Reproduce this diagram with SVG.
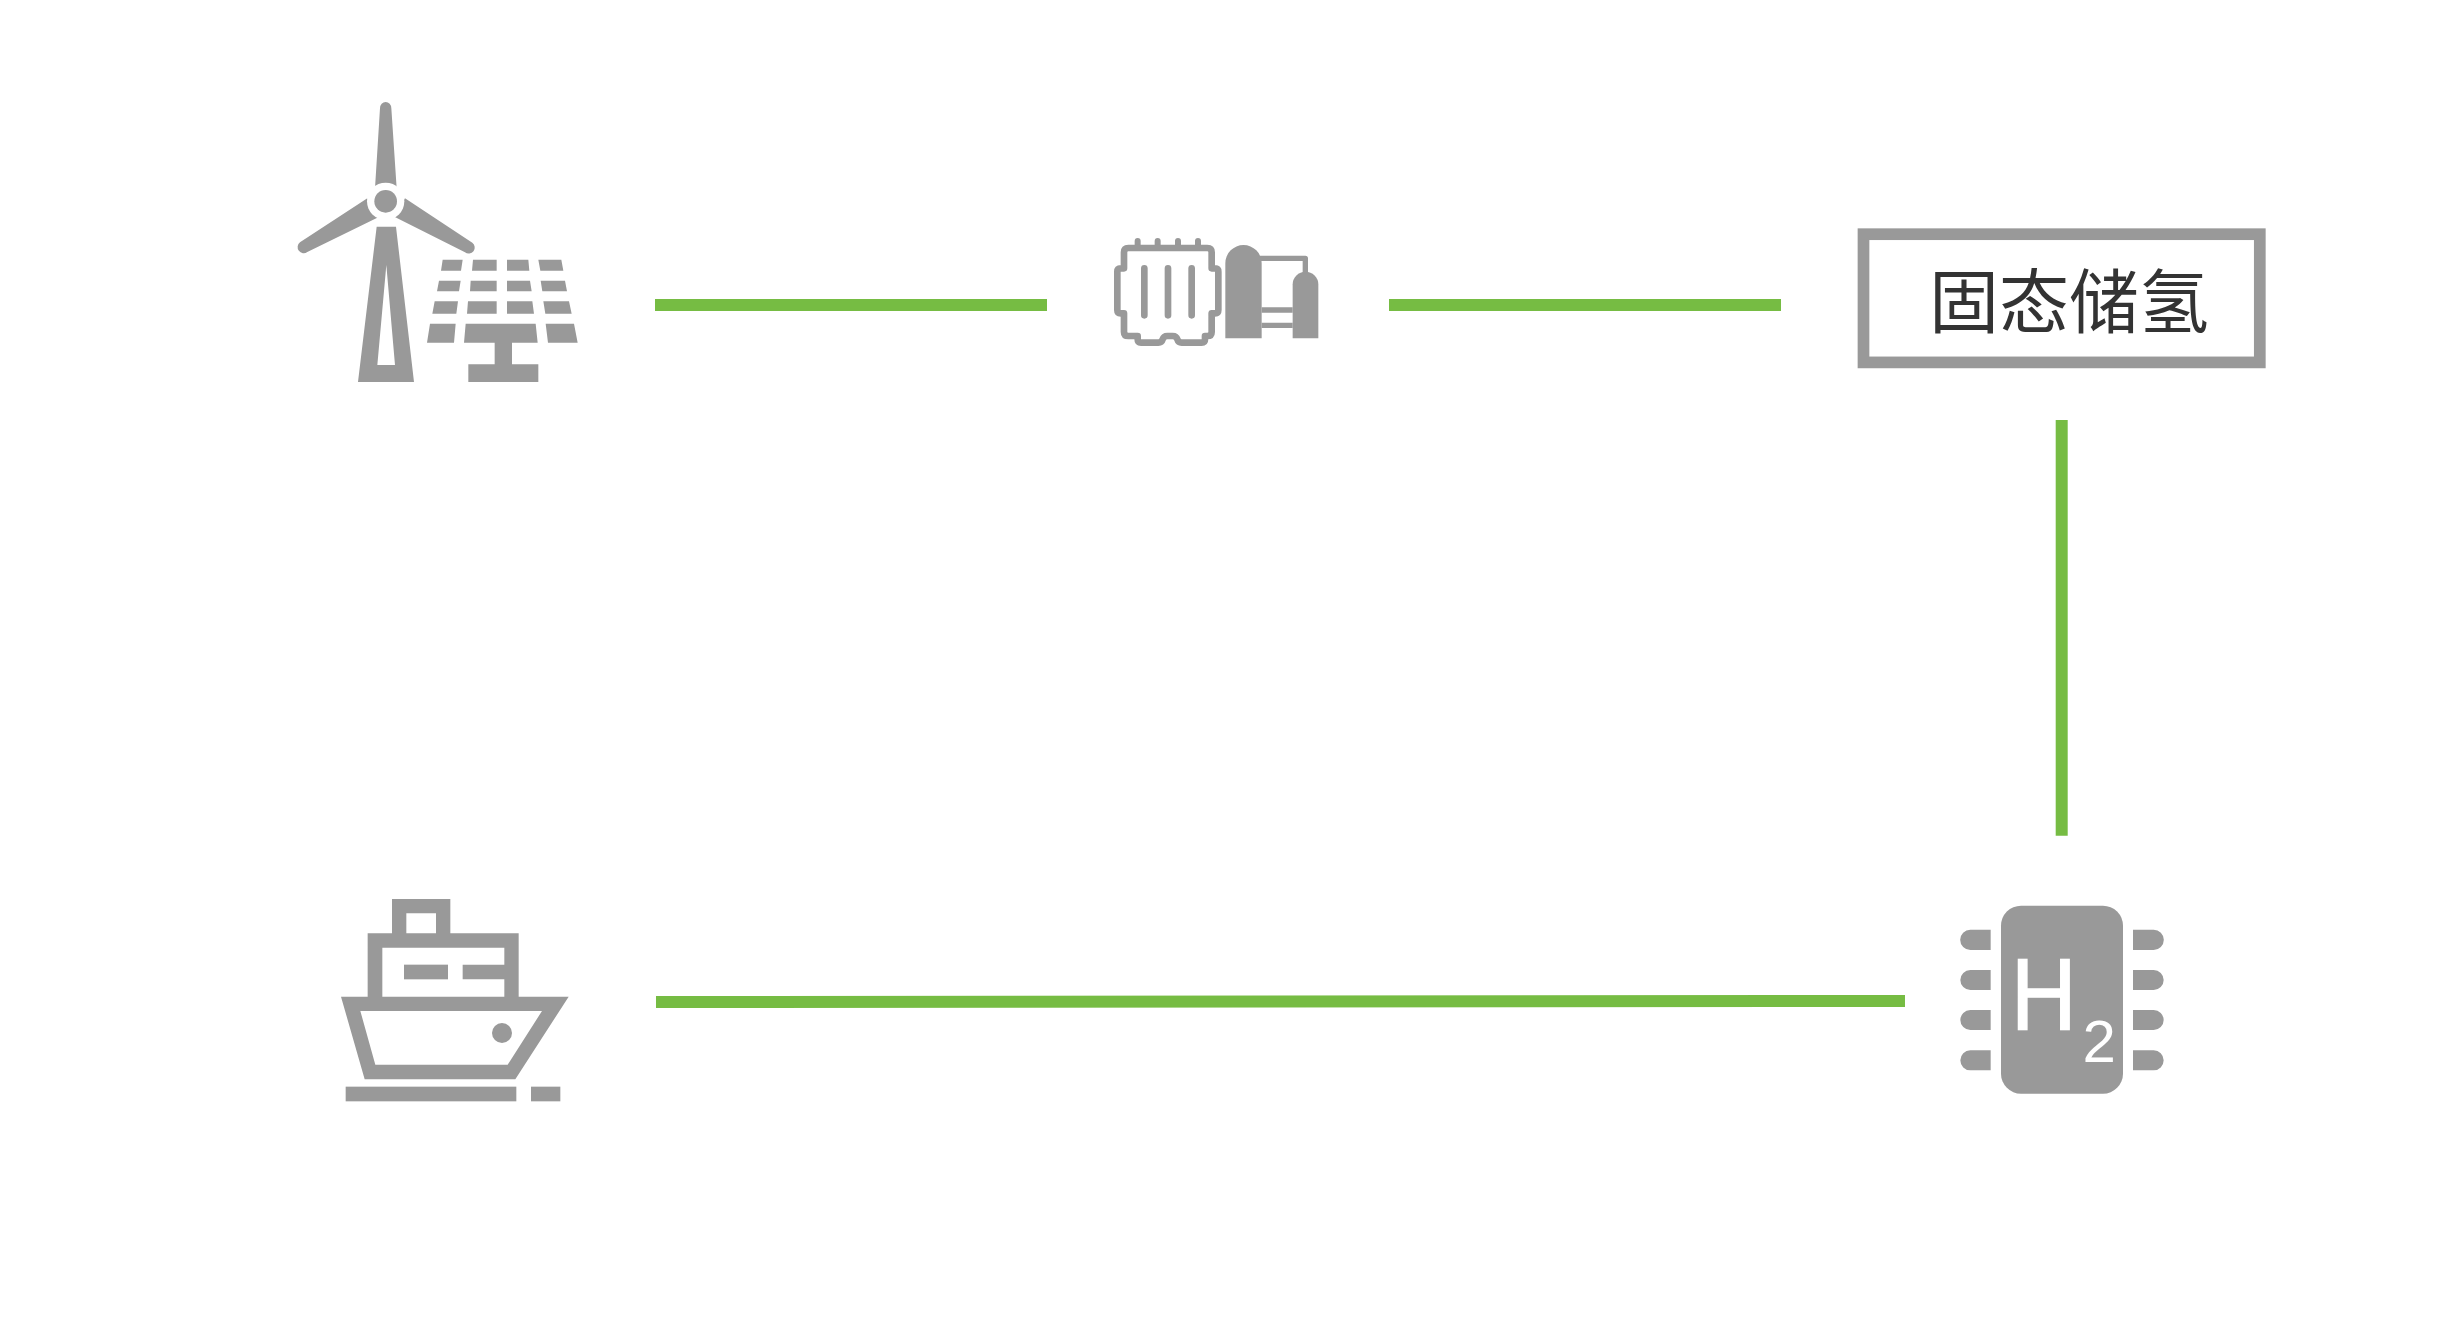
<svg xmlns="http://www.w3.org/2000/svg" width="2440" height="1332" viewBox="0 0 2440 1332">
<style>
.g{fill:#999}
.w{fill:#fff}
.o{fill:none;stroke:#999;stroke-linejoin:round}
.c{fill:none;stroke:#76bc43;stroke-width:12}
.t{font-family:"Liberation Sans",Arial,sans-serif;fill:#fff}
</style>
<rect width="2440" height="1332" fill="#fff"/>
<g id="connectors">
<line class="c" x1="655" y1="305" x2="1047" y2="305"/>
<line class="c" x1="1389" y1="305" x2="1781" y2="305"/>
<line class="c" x1="2061.7" y1="420" x2="2061.7" y2="835.7"/>
<line class="c" x1="656" y1="1002" x2="1905" y2="1001"/>
</g>
<g id="wind-solar" transform="translate(270 80) scale(.33333)">
<path class="g" d="M315 325L330 85A17 19 0 0 1 364 85L380 325Z"/>
<path class="g" d="M292 355L90 487A18 18 0 0 0 112 516L325 412Z"/>
<path class="g" d="M405 355L607 488A18 18 0 0 1 585 517L373 410Z"/>
<circle class="w" cx="347" cy="364" r="56"/>
<circle class="g" cx="347" cy="364" r="34"/>
<path class="g" fill-rule="evenodd" d="M320 440H378L432 906H264ZM349 555L322 855H375Z"/>
<path class="g" d="M518 539H578L573 572H513ZM609 539H680V572H606ZM711 539H775L778 572H711ZM805 539H874L880 572H811ZM507 602H572L567 634H501ZM602 602H680V634H600ZM711 602H780L785 634H711ZM812 602H885L891 634H817ZM494 664H564L559 701H487ZM594 664H680V701H591ZM711 664H787L792 701H711ZM820 664H897L905 701H826ZM480 731H557L552 788H471ZM587 731H797L803 788H726V853H805V906H595V853H674V788H582ZM827 731H912L923 788H834Z"/>
</g>
<g id="electrolyser" transform="translate(1100 220) scale(.33333)">
<path class="o" stroke-width="18" d="M113 63V84M173 63V84M234 63V84M294 63V84" stroke-linecap="round"/>
<path class="o" stroke-width="20" d="M85 84H322Q335 84 335 97V145H345Q355 145 355 155V270Q355 280 345 280H335V336Q335 348 322 348H315V358Q315 368 305 368H245Q235 368 232 358Q229 348 218 348H202Q191 348 188 358Q185 368 175 368H123Q113 368 113 358V348H85Q72 348 72 336V280H62Q52 280 52 270V155Q52 145 62 145H72V97Q72 84 85 84Z"/>
<path class="o" stroke-width="20" stroke-linecap="round" d="M133 145V286M204 145V286M275 145V286"/>
<path class="g" d="M376 355V130A54.500 55 0 0 1 485 130V355Z"/>
<path class="g" d="M578 355V193A38.500 38 0 0 1 655 193V355Z"/>
<path class="o" stroke-width="16" d="M480 115H616V160"/>
<path class="g" d="M485 262H578V278H485ZM485 308H578V324H485Z"/>
</g>
<g id="storage">
<rect x="1863.500" y="234.200" width="396.300" height="128.200" fill="#fff" stroke="#999" stroke-width="11.700"/>
<text x="2069" y="328" text-anchor="middle" font-size="70" fill="#333" font-family="'Noto Sans CJK SC','Noto Sans CJK TC',sans-serif">固态储氢</text>
</g>
<g id="ship" transform="translate(330 890) scale(.33333)">
<path class="g" fill-rule="evenodd" d="M186 27H361V130H566V320H716L556 568H104L33 320H113V130H186ZM229 70V130H318V70ZM157 173V320H523V268H398V224H523V173ZM91 363L136 524H533L636 363Z"/>
<rect class="g" x="222" y="224" width="132" height="44"/>
<circle class="g" cx="516" cy="429" r="30"/>
<rect class="g" x="47" y="590" width="512" height="44"/>
<rect class="g" x="603" y="590" width="88" height="44"/>
</g>
<g id="hydrogen-chip">
<g transform="translate(1950 890) scale(.33333)">
<rect class="g" x="153" y="47" width="366" height="564" rx="60"/>
<path class="g" d="M122 119H61A30 30 0 0 0 61 180H122ZM122 240H61A30 30 0 0 0 61 300H122ZM122 360H61A30 30 0 0 0 61 420H122ZM122 481H61A30 30 0 0 0 61 541H122Z"/>
<path class="g" d="M549 119H611A30 30 0 0 1 611 180H549ZM549 240H611A30 30 0 0 1 611 300H549ZM549 360H611A30 30 0 0 1 611 420H549ZM549 481H611A30 30 0 0 1 611 541H549Z"/>
</g>
<text class="t" transform="translate(2011 1030.300) scale(.89 1)" font-size="102" stroke="#fff" stroke-width="1.500">H</text>
<text class="t" x="2082.500" y="1062.300" font-size="60">2</text>
</g>
</svg>
